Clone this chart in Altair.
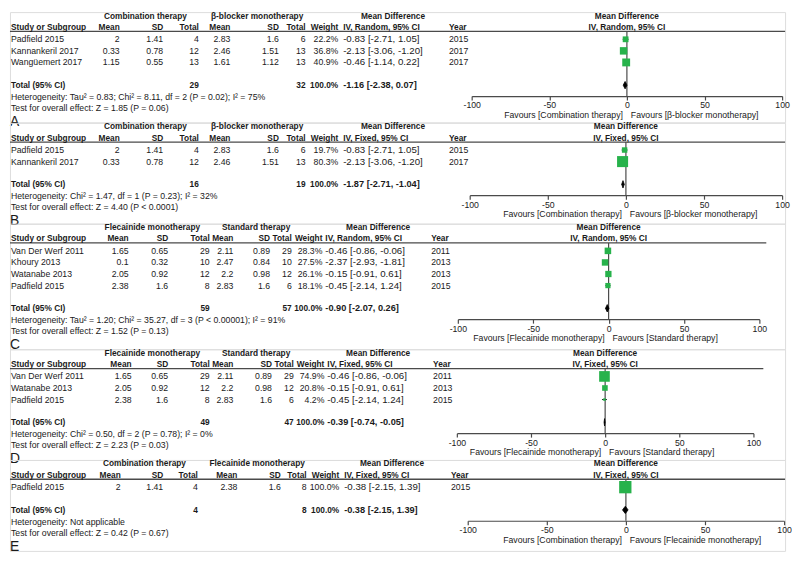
import altair as alt
import pandas as pd

# ---------------- data ----------------
# Panel A: Combination therapy vs beta-blocker monotherapy (random effects)
a_study = ["Padfield 2015", "Kannankeril 2017", "Wangüemert 2017"]
a_mean1 = [2, 0.33, 1.15]
a_sd1 = [1.41, 0.78, 0.55]
a_n1 = [4, 12, 13]
a_mean2 = [2.83, 2.46, 1.61]
a_sd2 = [1.6, 1.51, 1.12]
a_n2 = [6, 13, 13]
a_weight = [22.2, 36.8, 40.9]
a_md = [-0.83, -2.13, -0.46]
a_lo = [-2.71, -3.06, -1.14]
a_hi = [1.05, -1.20, 0.22]
a_year = [2015, 2017, 2017]
a_total_n = [29, 32]
a_total_w = "100.0%"
a_total_md = [-1.16, -2.38, 0.07]
a_het = "Heterogeneity: Tau² = 0.83; Chi² = 8.11, df = 2 (P = 0.02); I² = 75%"
a_test = "Test for overall effect: Z = 1.85 (P = 0.06)"

# Panel B: Combination therapy vs beta-blocker monotherapy (fixed effects)
b_study = ["Padfield 2015", "Kannankeril 2017"]
b_mean1 = [2, 0.33]
b_sd1 = [1.41, 0.78]
b_n1 = [4, 12]
b_mean2 = [2.83, 2.46]
b_sd2 = [1.6, 1.51]
b_n2 = [6, 13]
b_weight = [19.7, 80.3]
b_md = [-0.83, -2.13]
b_lo = [-2.71, -3.06]
b_hi = [1.05, -1.20]
b_year = [2015, 2017]
b_total_n = [16, 19]
b_total_w = "100.0%"
b_total_md = [-1.87, -2.71, -1.04]
b_het = "Heterogeneity: Chi² = 1.47, df = 1 (P = 0.23); I² = 32%"
b_test = "Test for overall effect: Z = 4.40 (P < 0.0001)"

# Panel C: Flecainide monotherapy vs standard therapy (random effects)
c_study = ["Van Der Werf 2011", "Khoury 2013", "Watanabe 2013", "Padfield 2015"]
c_mean1 = [1.65, 0.1, 2.05, 2.38]
c_sd1 = [0.65, 0.32, 0.92, 1.6]
c_n1 = [29, 10, 12, 8]
c_mean2 = [2.11, 2.47, 2.2, 2.83]
c_sd2 = [0.89, 0.84, 0.98, 1.6]
c_n2 = [29, 10, 12, 6]
c_weight = [28.3, 27.5, 26.1, 18.1]
c_md = [-0.46, -2.37, -0.15, -0.45]
c_lo = [-0.86, -2.93, -0.91, -2.14]
c_hi = [-0.06, -1.81, 0.61, 1.24]
c_year = [2011, 2013, 2013, 2015]
c_total_n = [59, 57]
c_total_w = "100.0%"
c_total_md = [-0.90, -2.07, 0.26]
c_het = "Heterogeneity: Tau² = 1.20; Chi² = 35.27, df = 3 (P < 0.00001); I² = 91%"
c_test = "Test for overall effect: Z = 1.52 (P = 0.13)"

# Panel D: Flecainide monotherapy vs standard therapy (fixed effects)
d_study = ["Van Der Werf 2011", "Watanabe 2013", "Padfield 2015"]
d_mean1 = [1.65, 2.05, 2.38]
d_sd1 = [0.65, 0.92, 1.6]
d_n1 = [29, 12, 8]
d_mean2 = [2.11, 2.2, 2.83]
d_sd2 = [0.89, 0.98, 1.6]
d_n2 = [29, 12, 6]
d_weight = [74.9, 20.8, 4.2]
d_md = [-0.46, -0.15, -0.45]
d_lo = [-0.86, -0.91, -2.14]
d_hi = [-0.06, 0.61, 1.24]
d_year = [2011, 2013, 2015]
d_total_n = [49, 47]
d_total_w = "100.0%"
d_total_md = [-0.39, -0.74, -0.05]
d_het = "Heterogeneity: Chi² = 0.50, df = 2 (P = 0.78); I² = 0%"
d_test = "Test for overall effect: Z = 2.23 (P = 0.03)"

# Panel E: Combination therapy vs flecainide monotherapy (fixed effects)
e_study = ["Padfield 2015"]
e_mean1 = [2]
e_sd1 = [1.41]
e_n1 = [4]
e_mean2 = [2.38]
e_sd2 = [1.6]
e_n2 = [8]
e_weight = [100.0]
e_md = [-0.38]
e_lo = [-2.15]
e_hi = [1.39]
e_year = [2015]
e_total_n = [4, 8]
e_total_w = "100.0%"
e_total_md = [-0.38, -2.15, 1.39]
e_het = "Heterogeneity: Not applicable"
e_test = "Test for overall effect: Z = 0.42 (P = 0.67)"

axis_ticks = [-100, -50, 0, 50, 100]

# ---------------- style / layout ----------------
FONT = "Liberation Sans"
TXT = "#1a1a1a"
GREEN = "#27b24b"
LINE = "#4a4a4a"
FS = 8.8       # regular text
FSH = 8.4      # bold header / total text
FSMD = 9.8     # mean-difference column
FSMDB = 9.3

STEP = 11.7
ROW0 = 27.5
R_H1 = (3.5 - ROW0) / STEP
R_H2 = (15.0 - ROW0) / STEP
R_LINE = (19.5 - ROW0) / STEP

LAY_A = dict(study=1, label=0, mean1=111, sd1=155, n1=191, mean2=223, sd2=272, n2=299,
             weight=332, md=337, year=444, g1=137, g2=250, mdh=355, f0=467, f1=781,
             line_end=784, H=111.5)
LAY_B = dict(LAY_A, f0=465, H=102)
LAY_C = dict(study=1, label=0, mean1=120, sd1=160, n1=202, mean2=226, sd2=263, n2=285,
             weight=316, md=319, year=426, g1=144, g2=249, mdh=340, f0=453, f1=758,
             line_end=765, H=127)
LAY_D = dict(study=1, label=0, mean1=123, sd1=160, n1=202, mean2=226, sd2=265, n2=287,
             weight=318, md=321, year=428, g1=144, g2=249, mdh=340, f0=452, f1=752,
             line_end=762, H=112)
LAY_E = dict(study=1, label=0, mean1=112, sd1=155, n1=190, mean2=230, sd2=274, n2=300,
             weight=333, md=338, year=446, g1=136, g2=250, mdh=354, f0=463, f1=783,
             line_end=784, H=92)


def fmt(v):
    return f"{v:g}"


def ci_text(m, lo, hi):
    return f"{m:.2f} [{lo:.2f}, {hi:.2f}]"


def make_panel(study, mean1, sd1, n1, mean2, sd2, n2, weight, md, lo, hi, year,
               total_n, total_w, total_md, het, test, grp1, grp2, method, fav_left,
               fav_right, letter, lay):
    n = len(study)
    r_tot = n - 1 + 23.0 / STEP
    r_het = r_tot + 12.0 / STEP
    r_test = r_het + 11.3 / STEP
    r_lab = r_test + 14.0 / STEP
    r_fav = r_het + 18.0 / STEP
    H = lay["H"]
    y_axis = ROW0 + r_het * STEP - 1.0

    ysc = alt.Scale(domain=[0, 1], range=[ROW0, ROW0 + STEP], zero=False, nice=False)
    xsc = alt.Scale(domain=[-100, 100], range=[lay["f0"], lay["f1"]], zero=False, nice=False)
    xaxis = alt.Axis(values=axis_ticks, orient="bottom", offset=y_axis - H, title=None,
                     grid=False, domainColor=LINE, domainWidth=1.2, tickColor=LINE,
                     tickSize=4, tickWidth=1.2, labelFont=FONT, labelFontSize=FS,
                     labelColor=TXT, labelPadding=1, labelFlush=False,
                     labelExpr="toString(datum.value)")

    # ---- table text ----
    T = []

    def add(r, x, align, bold, text, size=FS):
        T.append(dict(r=r, x=x, align=align, bold=bold, size=size, text=text))

    add(R_H1, lay["g1"], "center", True, grp1, FSH)
    add(R_H1, lay["g2"], "center", True, grp2, FSH)
    add(R_H1, lay["mdh"], "left", True, "Mean Difference", FSH)
    add(R_H2, lay["study"], "left", True, "Study or Subgroup", FSH)
    for key, lab in zip(["mean1", "sd1", "n1", "mean2", "sd2", "n2", "weight"],
                        ["Mean", "SD", "Total", "Mean", "SD", "Total", "Weight"]):
        add(R_H2, lay[key], "right", True, lab, FSH)
    add(R_H2, lay["md"], "left", True, f"IV, {method}, 95% CI", FSH)
    add(R_H2, lay["year"], "left", True, "Year", FSH)
    for i in range(n):
        add(i, lay["study"], "left", False, study[i])
        add(i, lay["mean1"], "right", False, fmt(mean1[i]))
        add(i, lay["sd1"], "right", False, fmt(sd1[i]))
        add(i, lay["n1"], "right", False, fmt(n1[i]))
        add(i, lay["mean2"], "right", False, fmt(mean2[i]))
        add(i, lay["sd2"], "right", False, fmt(sd2[i]))
        add(i, lay["n2"], "right", False, fmt(n2[i]))
        add(i, lay["weight"], "right", False, f"{weight[i]:.1f}%")
        add(i, lay["md"], "left", False, ci_text(md[i], lo[i], hi[i]), FSMD)
        add(i, lay["year"], "left", False, str(year[i]))
    add(r_tot, lay["study"], "left", True, "Total (95% CI)", FSH)
    add(r_tot, lay["n1"], "right", True, str(total_n[0]), FSH)
    add(r_tot, lay["n2"], "right", True, str(total_n[1]), FSH)
    add(r_tot, lay["weight"], "right", True, total_w, FSH)
    add(r_tot, lay["md"], "left", True, ci_text(*total_md), FSMDB)
    add(r_het, lay["study"], "left", False, het)
    add(r_test, lay["study"], "left", False, test)
    add(r_lab, lay["label"], "left", False, letter, 14)

    tdf = pd.DataFrame(T)
    layers = []

    # header line
    layers.append(
        alt.Chart(pd.DataFrame({"r": [R_LINE]})).mark_rule(color=LINE, strokeWidth=1.3).encode(
            x=alt.value(0), x2=alt.value(lay["line_end"]),
            y=alt.Y("r:Q", scale=ysc, axis=None))
    )
    # zero line (carries the forest axis)
    layers.append(
        alt.Chart(pd.DataFrame({"x": [0], "r1": [R_LINE], "r2": [(y_axis - ROW0) / STEP]}))
        .mark_rule(color=LINE, strokeWidth=1.2).encode(
            x=alt.X("x:Q", scale=xsc, axis=xaxis),
            y=alt.Y("r1:Q", scale=ysc, axis=None), y2="r2:Q")
    )

    for (x, align, bold, size), sub in tdf.groupby(["x", "align", "bold", "size"]):
        layers.append(
            alt.Chart(sub[["r", "text"]]).mark_text(
                align=align, baseline="middle", font=FONT, fontSize=float(size),
                fontWeight="bold" if bold else "normal", color=TXT).encode(
                x=alt.value(float(x)),
                y=alt.Y("r:Q", scale=ysc, axis=None),
                text="text:N")
        )

    # forest plot: studies
    sdf = pd.DataFrame({"r": list(range(n)), "md": md, "lo": lo, "hi": hi, "weight": weight})
    layers.append(
        alt.Chart(sdf).mark_rule(color="#222222", strokeWidth=1).encode(
            x=alt.X("lo:Q", scale=xsc, axis=xaxis), x2="hi:Q",
            y=alt.Y("r:Q", scale=ysc, axis=None))
    )
    layers.append(
        alt.Chart(sdf).mark_square(filled=True, opacity=1, color=GREEN).encode(
            x=alt.X("md:Q", scale=xsc, axis=xaxis),
            y=alt.Y("r:Q", scale=ysc, axis=None),
            size=alt.Size("weight:Q", scale=alt.Scale(domain=[0, 100], range=[0, 155]),
                          legend=None))
    )
    # pooled diamond
    half = 0.32
    ddf = pd.DataFrame({"x": [total_md[1], total_md[0], total_md[2]],
                        "y1": [r_tot, r_tot - half, r_tot],
                        "y2": [r_tot, r_tot + half, r_tot]})
    layers.append(
        alt.Chart(ddf).mark_area(color="#000000", orient="vertical", stroke="#000000",
                                 strokeWidth=0.8).encode(
            x=alt.X("x:Q", scale=xsc, axis=xaxis),
            y=alt.Y("y1:Q", scale=ysc, axis=None), y2="y2:Q")
    )
    # forest headers
    hdf = pd.DataFrame({"x": [0, 0], "r": [R_H1, R_H2],
                        "text": ["Mean Difference", f"IV, {method}, 95% CI"]})
    layers.append(
        alt.Chart(hdf).mark_text(align="center", baseline="middle", font=FONT, fontSize=FSH,
                                 fontWeight="bold", color=TXT).encode(
            x=alt.X("x:Q", scale=xsc, axis=xaxis),
            y=alt.Y("r:Q", scale=ysc, axis=None), text="text:N")
    )
    fl = pd.DataFrame({"x": [0], "r": [r_fav], "text": [fav_left]})
    fr = pd.DataFrame({"x": [0], "r": [r_fav], "text": [fav_right]})
    layers.append(
        alt.Chart(fl).mark_text(align="right", baseline="middle", dx=-4, font=FONT,
                                fontSize=FS, color=TXT).encode(
            x=alt.X("x:Q", scale=xsc, axis=xaxis),
            y=alt.Y("r:Q", scale=ysc, axis=None), text="text:N")
    )
    layers.append(
        alt.Chart(fr).mark_text(align="left", baseline="middle", dx=4, font=FONT,
                                fontSize=FS, color=TXT).encode(
            x=alt.X("x:Q", scale=xsc, axis=xaxis),
            y=alt.Y("r:Q", scale=ysc, axis=None), text="text:N")
    )

    return alt.layer(*layers).properties(width=784, height=H)


pA = make_panel(a_study, a_mean1, a_sd1, a_n1, a_mean2, a_sd2, a_n2, a_weight, a_md, a_lo,
                a_hi, a_year, a_total_n, a_total_w, a_total_md, a_het, a_test,
                "Combination therapy", "β-blocker monotherapy", "Random",
                "Favours [Combination therapy]", "Favours [β-blocker monotherapy]", "A", LAY_A)
pB = make_panel(b_study, b_mean1, b_sd1, b_n1, b_mean2, b_sd2, b_n2, b_weight, b_md, b_lo,
                b_hi, b_year, b_total_n, b_total_w, b_total_md, b_het, b_test,
                "Combination therapy", "β-blocker monotherapy", "Fixed",
                "Favours [Combination therapy]", "Favours [β-blocker monotherapy]", "B", LAY_B)
pC = make_panel(c_study, c_mean1, c_sd1, c_n1, c_mean2, c_sd2, c_n2, c_weight, c_md, c_lo,
                c_hi, c_year, c_total_n, c_total_w, c_total_md, c_het, c_test,
                "Flecainide monotherapy", "Standard therapy", "Random",
                "Favours [Flecainide monotherapy]", "Favours [Standard therapy]", "C", LAY_C)
pD = make_panel(d_study, d_mean1, d_sd1, d_n1, d_mean2, d_sd2, d_n2, d_weight, d_md, d_lo,
                d_hi, d_year, d_total_n, d_total_w, d_total_md, d_het, d_test,
                "Flecainide monotherapy", "Standard therapy", "Fixed",
                "Favours [Flecainide monotherapy]", "Favours [Standard therapy]", "D", LAY_D)
pE = make_panel(e_study, e_mean1, e_sd1, e_n1, e_mean2, e_sd2, e_n2, e_weight, e_md, e_lo,
                e_hi, e_year, e_total_n, e_total_w, e_total_md, e_het, e_test,
                "Combination therapy", "Flecainide monotherapy", "Fixed",
                "Favours [Combination therapy]", "Favours [Flecainide monotherapy]", "E", LAY_E)

chart = alt.vconcat(pA, pB, pC, pD, pE, spacing=0, bounds="flush").properties(
    padding=0).configure_view(stroke=None).configure(background="white")

chart.save("out.html", embed_options={"renderer": "svg", "actions": False})
